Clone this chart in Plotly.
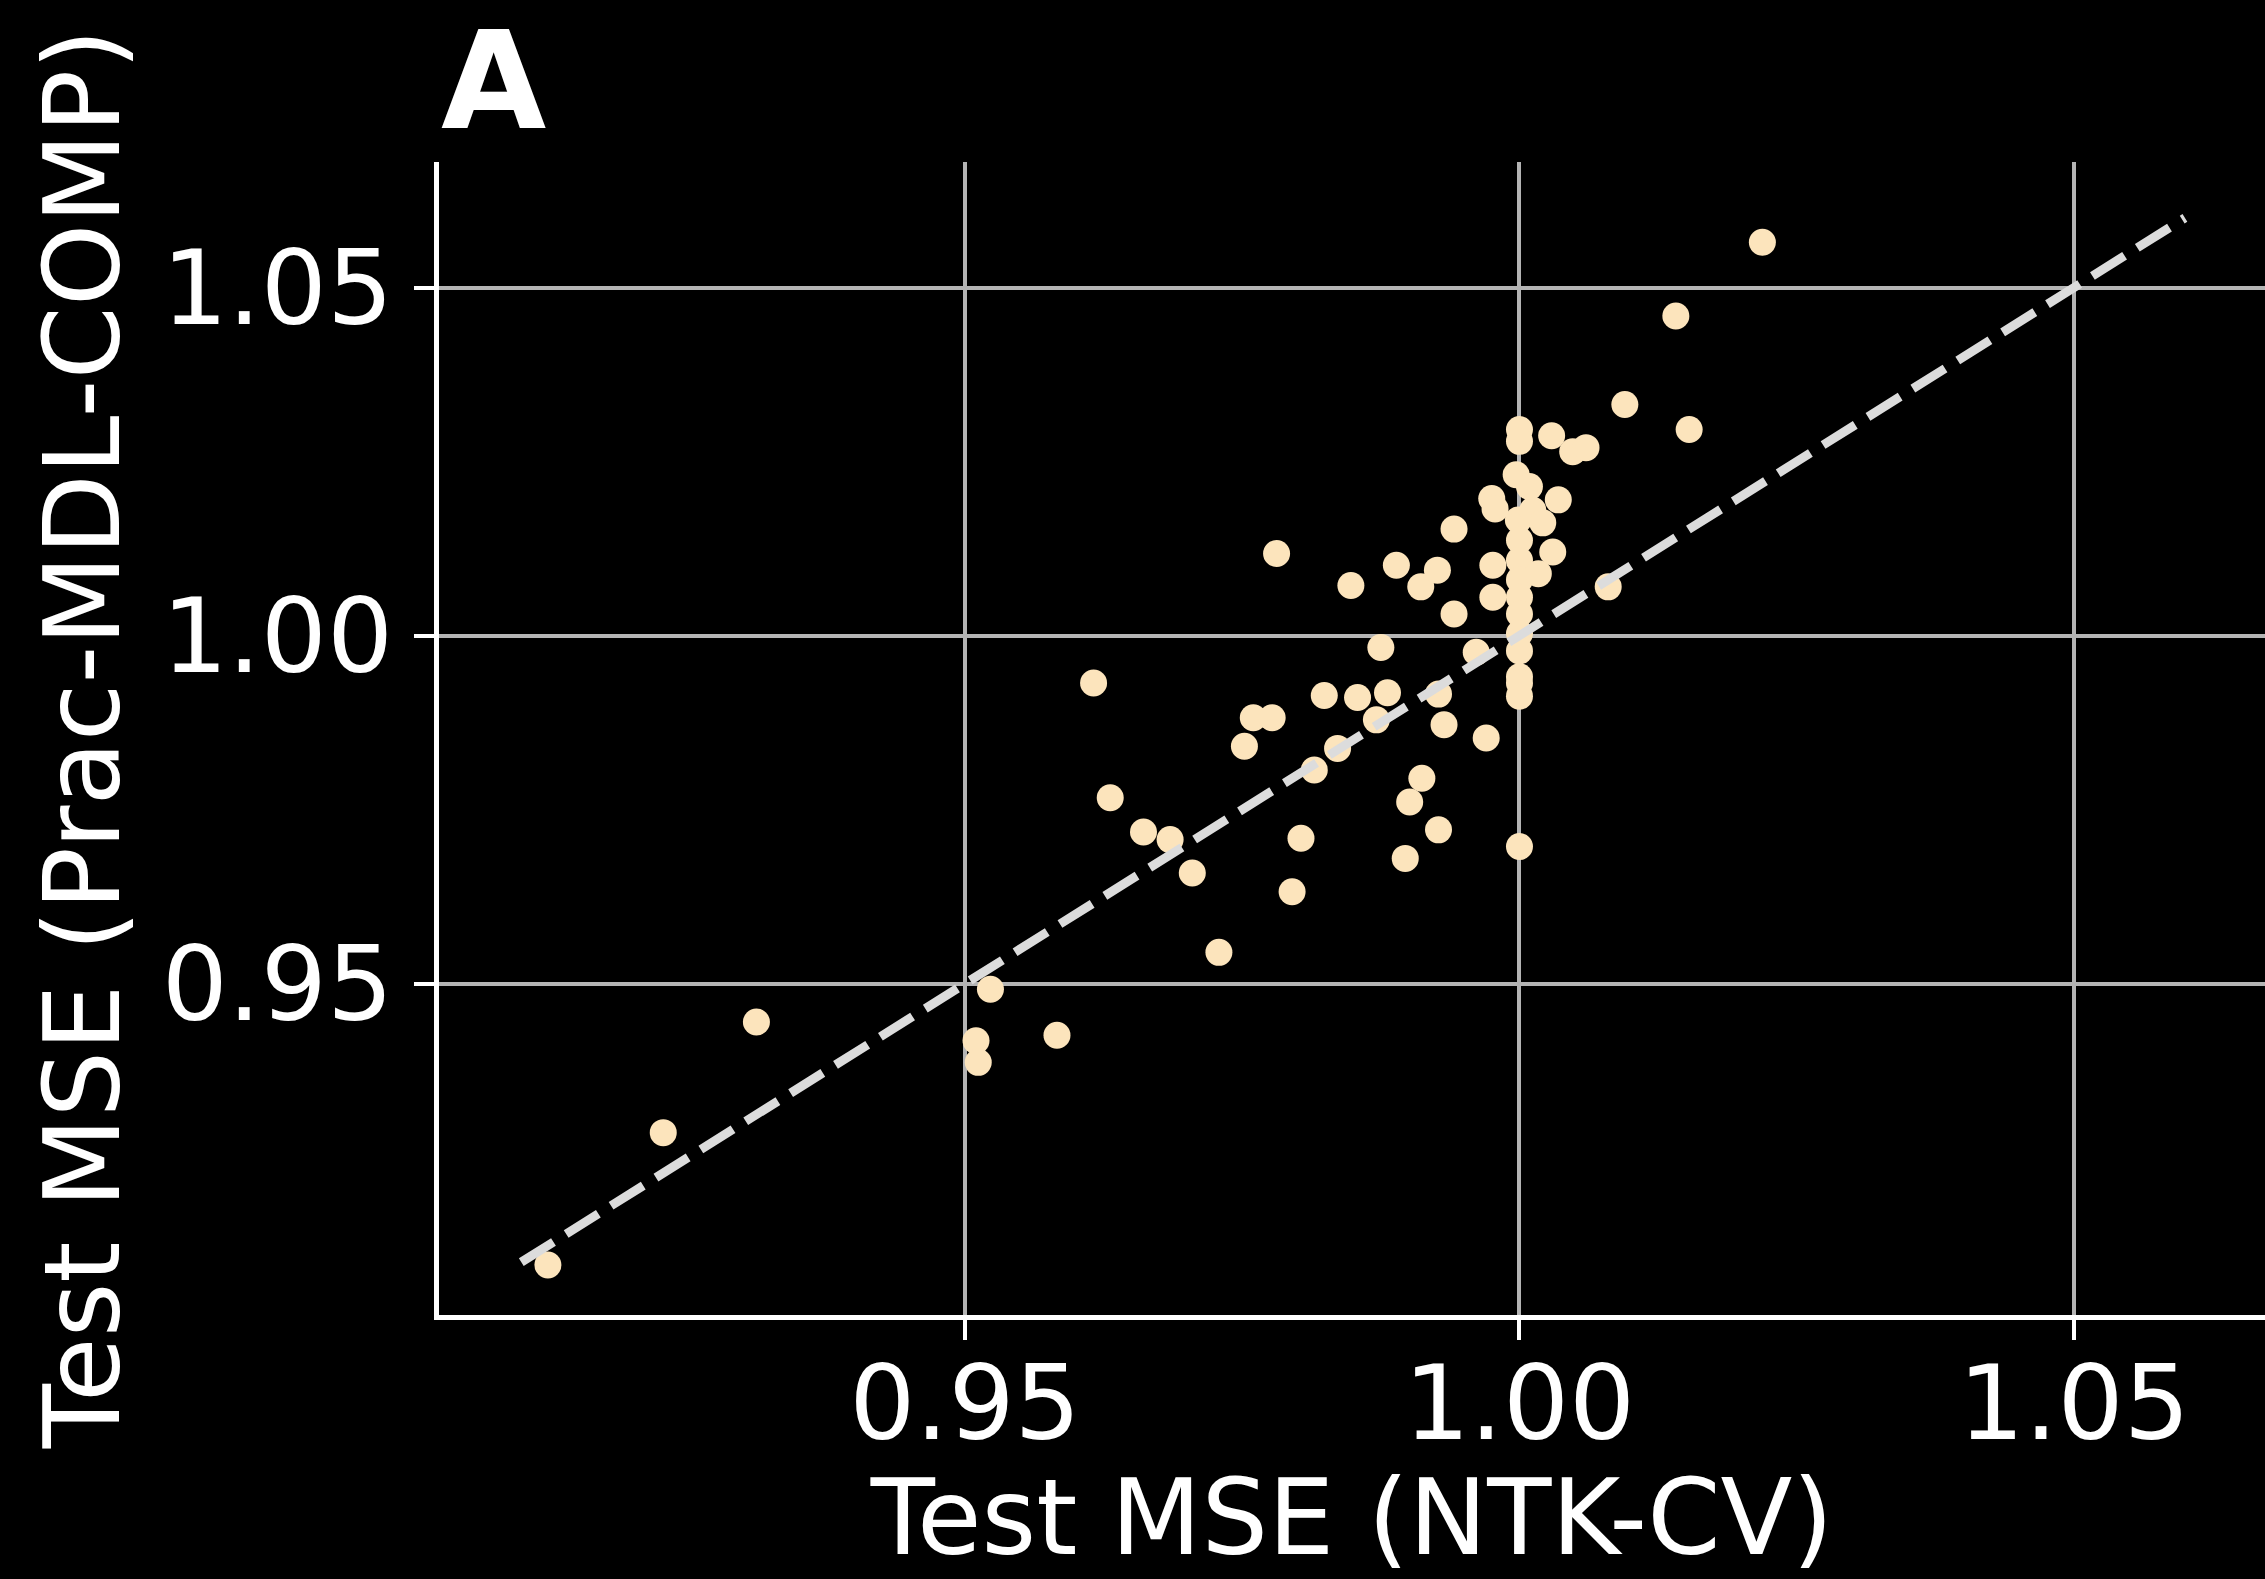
import plotly.graph_objects as go

# NTK-CV test MSE (x) and Prac-MDL-COMP test MSE (y)
ntk_cv = [
    0.9124, 0.9228, 0.9312, 0.9510, 0.9512, 0.9523, 0.9583,
    0.9616, 0.9631, 0.9661, 0.9685, 0.9705, 0.9729, 0.9752, 0.9760, 0.9777, 0.9781,
    0.9795, 0.9803, 0.9815, 0.9824, 0.9836, 0.9848, 0.9854, 0.9871, 0.9875, 0.9881,
    0.9889, 0.9897, 0.9901, 0.9911, 0.9912, 0.9926, 0.9927, 0.9927, 0.9932, 0.9941,
    0.9941, 0.9961, 0.9970, 0.9975, 0.9978, 0.9976, 0.9976,
    1.0000, 1.0000, 0.9997, 1.0009, 0.9999, 1.0000, 1.0000, 1.0000, 1.0000, 1.0000,
    1.0000, 1.0000, 1.0000, 1.0000, 1.0000, 1.0000, 1.0012,
    1.0029, 1.0048, 1.0060, 1.0035, 1.0021, 1.0030, 1.0017, 1.0080, 1.0095,
    1.0141, 1.0153, 1.0219,
]
prac_mdl_comp = [
    0.9096, 0.9286, 0.9445, 0.9418, 0.9387, 0.9492, 0.9426,
    0.9932, 0.9767, 0.9718, 0.9707, 0.9659, 0.9545, 0.9841, 0.9882, 0.9882, 1.0118,
    0.9632, 0.9709, 0.9807, 0.9914, 0.9838, 1.0072, 0.9911, 0.9879, 0.9983, 0.9918,
    1.0101, 0.9680, 0.9761, 1.0070, 0.9795, 1.0094, 0.9916, 0.9721, 0.9872, 1.0031,
    1.0153, 0.9976, 0.9853, 1.0197, 1.0182, 1.0101, 1.0055,
    1.0296, 1.0279, 1.0231, 1.0214, 1.0166, 1.0137, 1.0108, 1.0080, 1.0055, 1.0031,
    1.0003, 0.9978, 0.9941, 0.9932, 0.9913, 0.9697, 1.0180,
    1.0287, 1.0264, 1.0270, 1.0195, 1.0162, 1.0120, 1.0089, 1.0070, 1.0332,
    1.0459, 1.0296, 1.0565,
]

diag = [0.91, 1.06]
tick_vals = [0.95, 1.00, 1.05]
tick_text = ["0.95", "1.00", "1.05"]

x_title = "Test MSE (NTK-CV)"
y_title = "Test MSE (Prac-MDL-COMP)"
panel_label = "A"

FONT = "DejaVu Sans"

fig = go.Figure()
fig.add_trace(go.Scatter(
    x=ntk_cv, y=prac_mdl_comp, mode="markers",
    marker=dict(size=27, color="#fce4bc", line=dict(width=0)),
    showlegend=False,
))
fig.add_trace(go.Scatter(
    x=diag, y=diag, mode="lines",
    line=dict(color="#dcdcdc", width=9, dash="38px,15px"),
    showlegend=False,
))

axis_common = dict(
    showgrid=True, gridcolor="#b4b4b4", gridwidth=4,
    zeroline=False, showline=True, linecolor="white", linewidth=5,
    ticks="outside", ticklen=20, tickwidth=4, tickcolor="white",
    tickvals=tick_vals, ticktext=tick_text,
    tickfont=dict(family=FONT, size=104, color="white"),
)

fig.update_layout(
    width=2265, height=1579,
    margin=dict(l=439, r=0, t=162, b=264, autoexpand=False),
    paper_bgcolor="black", plot_bgcolor="black",
    xaxis=dict(range=[0.90258, 1.06722], ticklabelstandoff=-26,
               title=dict(text=x_title, font=dict(family=FONT, size=105, color="white"), standoff=30),
               **axis_common),
    yaxis=dict(range=[0.90241, 1.06803],
               title=dict(text=y_title, font=dict(family=FONT, size=105, color="white"), standoff=8),
               **axis_common),
    annotations=[dict(
        text="<b>" + panel_label + "</b>", xref="paper", yref="paper",
        x=0, y=1.0, xanchor="left", yanchor="bottom", showarrow=False,
        font=dict(family=FONT, size=136, color="white"),
    )],
)

fig.write_html("out.html")
